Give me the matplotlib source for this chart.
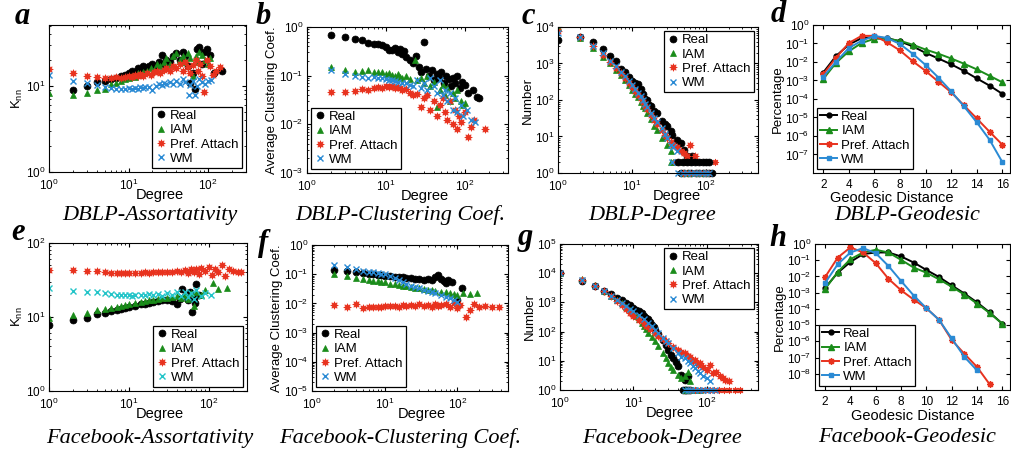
import matplotlib
matplotlib.use('Agg')
import matplotlib.pyplot as plt

plt.rcParams['font.family'] = ['Liberation Sans', 'DejaVu Sans']
plt.rcParams['mathtext.default'] = 'regular'

BLACK = 'black'
GREEN = '#1a8c1a'
RED = '#e8321e'
BLUE = '#2a8ad4'
CYAN = '#22c4c8'
names = ['Real', 'IAM', 'Pref. Attach', 'WM']

# ---- a: DBLP assortativity (degree, Knn)
a_real = [(2,8.9),(3,10),(4,11),(5,11.5),(6,12),(7,12.2),(8,13),(9,13.5),(10,14),(11,15),(12,14.5),(13,16),(14,15),
          (15,17),(16,15.5),(17,16),(18,17),(20,18),(22,17),(24,19),(26,23),(28,18),(30,20),(33,19),(36,22),(40,24),
          (44,20),(48,25),(52,22),(56,17),(60,10.8),(65,14),(68,9.2),(72,27),(78,28.6),(85,18),(90,25),(98,27),
          (106,23),(120,14),(150,15)]
a_iam = [(1,8.3),(2,7.9),(3,8.2),(4,8.9),(5,9.2),(6,10.5),(7,10.8),(8,11.5),(9,12),(10,12.5),(11,13),(12,12.8),
         (13,14),(14,13.5),(15,14.5),(17,15),(19,16),(21,15.5),(23,18),(25,17),(28,19),(30,21),(33,18),(36,22),
         (40,24),(44,20),(48,22),(52,19),(56,24),(60,21),(65,13),(70,22),(75,19),(78,25),(85,23),(92,20),(100,18),(106,21)]
a_pa = [(1,15.7),(2,14.2),(3,13.2),(4,12.8),(5,12.5),(6,12.3),(7,12.6),(8,12.4),(9,12.8),(10,13),(11,12.7),(12,13.3),
        (13,13),(14,13.8),(15,13.2),(17,14),(19,13.5),(21,14.5),(23,15),(25,14.2),(28,15.5),(30,16),(33,14.8),(36,17),
        (40,16),(44,18),(48,15),(52,19),(56,16.5),(60,14),(65,17.5),(70,20),(75,15),(80,18),(85,13),(90,8.6),(98,20),
        (105,17),(115,13.5),(125,15),(140,16.5)]
a_wm = [(1,13.4),(2,11.5),(3,10.9),(4,10.3),(5,9.6),(6,9.5),(7,9.3),(8,9.2),(9,9.1),(10,9.4),(11,9.2),(12,9.5),
        (13,9.3),(14,9.6),(15,9.4),(16,9.8),(18,9.7),(20,9),(22,10),(24,10.4),(26,10.2),(28,10.8),(30,10.5),(33,11),
        (36,10.6),(40,11.3),(44,10.5),(48,12),(52,11),(57,7.8),(60,10.2),(65,11.5),(68,7.8),(72,10),(78,12),(85,11),
        (92,10.6),(100,11.4),(110,11.8)]

# ---- b: DBLP clustering coefficient
b_real = [(2,0.67),(3,0.62),(4,0.58),(5,0.53),(6,0.48),(7,0.45),(8,0.44),(9,0.42),(10,0.39),(11,0.34),(12,0.33),
          (13,0.37),(14,0.31),(15,0.36),(16,0.28),(17,0.32),(18,0.24),(20,0.21),(22,0.18),(24,0.25),(26,0.15),
          (28,0.12),(30,0.49),(32,0.14),(35,0.1),(38,0.13),(41,0.08),(44,0.11),(47,0.09),(50,0.12),(54,0.07),
          (58,0.1),(62,0.085),(66,0.06),(70,0.09),(75,0.07),(80,0.1),(86,0.055),(92,0.075),(100,0.065),(110,0.045),
          (125,0.05),(140,0.036),(150,0.035)]
b_iam = [(2,0.15),(3,0.13),(4,0.12),(5,0.125),(6,0.13),(7,0.12),(8,0.118),(9,0.12),(10,0.11),(11,0.115),(12,0.105),
         (13,0.1),(14,0.11),(15,0.095),(16,0.09),(18,0.1),(20,0.085),(23,0.21),(25,0.08),(28,0.09),(30,0.07),(33,0.1),
         (36,0.06),(40,0.075),(44,0.023),(48,0.05),(52,0.065),(56,0.04),(60,0.055),(65,0.03),(70,0.045),(75,0.035),
         (80,0.05),(88,0.03),(95,0.025),(100,0.028)]
b_pa = [(2,0.046),(3,0.046),(4,0.048),(5,0.054),(6,0.05),(7,0.056),(8,0.058),(9,0.055),(10,0.06),(11,0.058),(12,0.06),
        (13,0.057),(14,0.059),(15,0.055),(16,0.05),(18,0.052),(20,0.045),(22,0.04),(25,0.042),(28,0.023),(30,0.035),
        (33,0.04),(36,0.02),(40,0.03),(44,0.015),(48,0.025),(52,0.035),(56,0.018),(60,0.012),(65,0.03),(70,0.01),
        (75,0.02),(80,0.008),(85,0.015),(90,0.011),(100,0.018),(110,0.0055),(120,0.009),(130,0.012),(180,0.008)]
b_wm = [(2,0.13),(3,0.11),(4,0.097),(5,0.094),(6,0.09),(7,0.092),(8,0.088),(9,0.09),(10,0.085),(11,0.08),(12,0.082),
        (13,0.078),(14,0.075),(16,0.07),(18,0.072),(20,0.065),(22,0.06),(25,0.08),(28,0.055),(30,0.07),(33,0.05),
        (36,0.09),(40,0.06),(44,0.045),(48,0.08),(52,0.04),(56,0.05),(60,0.03),(65,0.045),(70,0.02),(75,0.035),
        (80,0.018),(88,0.025),(95,0.015),(105,0.02),(120,0.012),(134,0.011)]

# ---- c: DBLP degree distribution (degree, number); *_two / *_one = degrees seen twice / once
c_real = [(1,4300),(2,5400),(3,3900),(4,2500),(5,1650),(6,1200),(7,710),(8,570),(9,420),(10,340),(11,300),(12,270),
          (13,205),(14,150),(15,105),(16,100),(17,75),(18,70),(20,50),(22,45),(25,26),(28,22),(30,19),(33,14),(35,11),
          (40,8),(45,6.5),(50,4.2),(55,3),(60,2.5),(65,3)]
c_real_two = [42, 48, 55, 62, 70, 80, 90, 100, 110]
c_real_one = [45, 50, 56, 63, 72, 80, 90, 100, 110, 120]
c_iam = [(1,10000),(2,5000),(3,2700),(4,1500),(5,1000),(6,650),(7,480),(8,350),(9,250),(10,190),(11,150),(12,120),
         (13,90),(14,70),(15,60),(16,45),(18,30),(20,20),(22,15),(25,9),(28,10),(30,6),(33,4)]
c_iam_two = [33, 36, 40, 45, 50, 55, 60]
c_iam_one = [50, 55, 60, 66, 72, 80, 90, 100]
c_pa = [(1,8000),(2,5200),(3,3000),(4,1700),(5,1100),(6,750),(7,550),(8,400),(9,300),(10,230),(11,180),(12,140),
        (13,110),(14,90),(15,70),(16,55),(18,40),(20,28),(22,22),(25,15),(28,11),(30,9),(33,7),(36,6),(40,5),(45,4),
        (50,3.5),(55,3),(60,6),(70,3)]
c_pa_two = [38, 44, 50, 57, 65, 75, 85, 130]
c_pa_one = [48, 54, 60, 68, 76, 85, 95, 105]
c_wm = [(1,7000),(2,5200),(3,3100),(4,1900),(5,1200),(6,850),(7,600),(8,450),(9,340),(10,260),(11,200),(12,160),
        (13,125),(14,100),(15,80),(16,65),(18,45),(20,32),(22,25),(25,17),(28,12),(30,9),(33,6),(36,5),(40,4)]
c_wm_two = [35, 40, 46, 52, 60, 68, 78, 90, 100]
c_wm_one = [42, 48, 55, 62, 70, 78, 88, 98, 110]

# ---- d: DBLP geodesic distance
dist = [2, 3, 4, 5, 6, 7, 8, 9, 10, 11, 12, 13, 14, 15, 16]
d_real = [2.7e-3, 0.021, 0.087, 0.195, 0.22, 0.195, 0.13, 0.07, 0.031, 0.0155, 7.5e-3, 3.3e-3, 1.3e-3, 5.3e-4, 1.9e-4]
d_iam = [1.2e-3, 9e-3, 0.038, 0.106, 0.18, 0.18, 0.14, 0.086, 0.047, 0.028, 0.0155, 8.1e-3, 4.0e-3, 1.8e-3, 8e-4]
d_pa = [2.2e-3, 0.017, 0.106, 0.26, 0.26, 0.115, 0.042, 0.011, 3.3e-3, 8.6e-4, 2.3e-4, 4.5e-5, 8.9e-6, 1.7e-6, 3.4e-7]
d_wm = [1.6e-3, 0.0103, 0.057, 0.14, 0.26, 0.195, 0.094, 0.0275, 6.9e-3, 1.45e-3, 2.6e-4, 4.0e-5, 5.5e-6, 6.3e-7, 3.9e-8]

# ---- e: Facebook assortativity
e_real = [(1,7.9),(2,9.1),(3,9.8),(4,10.9),(5,11.4),(6,12),(7,12.5),(8,13),(9,13.2),(10,13.8),(12,14.2),(14,14.8),
          (16,15.2),(18,15.5),(20,16),(23,16.3),(26,16.8),(30,17.2),(35,16.5),(40,15),(43,17.5),(46,24),(50,19),
          (55,17),(58,22),(62,11.7),(65,18),(68,15.6),(70,28),(75,20)]
e_iam = [(1,9.8),(2,10.5),(3,11.4),(4,12.3),(5,12.7),(6,13.2),(7,13.8),(8,14.2),(9,14.5),(10,15),(12,15.5),(14,16),
         (16,16.4),(18,16.8),(20,17.2),(23,17.5),(26,17.8),(30,18.2),(35,18.5),(40,19),(45,18),(50,20),(55,17.5),
         (60,21),(65,14),(70,22),(80,20),(90,23),(112,29),(130,24),(167,25)]
e_pa = [(1,43.6),(2,43.6),(3,41.5),(4,41.5),(5,40),(6,39.5),(7,39),(8,39.5),(9,39),(10,39.5),(12,39),(14,39.5),
        (16,40),(18,39.5),(20,40),(23,40.5),(26,40),(30,41),(35,40),(40,42),(45,40),(50,43),(55,39),(60,44),(65,41),
        (70,45),(75,38),(80,46),(90,42),(100,48),(110,37),(120,45),(130,40),(145,50),(160,36),(180,44),(200,42),
        (230,40),(250,41)]
e_wm = [(1,24.3),(2,22.6),(3,21.9),(4,21.5),(5,20.8),(6,20.3),(7,20),(8,19.8),(9,19.6),(10,19.6),(11,19.5),(12,19.7),
        (14,19.8),(16,20),(18,20.2),(20,20),(23,20.5),(26,19.5),(30,21),(35,20),(40,21.5),(45,19),(50,22),(55,18.5),
        (60,21),(65,17.5),(70,23),(80,19),(90,21),(107,20)]

# ---- f: Facebook clustering coefficient
f_real = [(2,0.14),(3,0.13),(4,0.117),(5,0.11),(6,0.105),(7,0.1),(8,0.095),(9,0.092),(10,0.09),(12,0.085),(14,0.082),
          (16,0.08),(18,0.078),(20,0.075),(23,0.072),(26,0.07),(30,0.068),(35,0.065),(40,0.07),(45,0.062),(50,0.08),
          (55,0.095),(60,0.07),(65,0.06),(70,0.05),(75,0.065),(85,0.056),(100,0.013),(117,0.033)]
f_iam = [(2,0.1),(3,0.088),(4,0.073),(5,0.067),(6,0.063),(7,0.06),(8,0.057),(9,0.054),(10,0.052),(12,0.048),(14,0.045),
         (16,0.043),(18,0.041),(20,0.04),(23,0.037),(26,0.035),(30,0.033),(35,0.031),(40,0.029),(45,0.028),(50,0.027),
         (60,0.025),(70,0.024),(80,0.022),(90,0.021),(100,0.02),(120,0.022),(150,0.021),(190,0.023)]
f_pa = [(2,0.0088),(3,0.0077),(4,0.0093),(5,0.0071),(6,0.0075),(7,0.0073),(8,0.0078),(9,0.0076),(10,0.008),(12,0.0079),
        (14,0.0082),(16,0.0078),(18,0.0085),(20,0.008),(23,0.0088),(26,0.0079),(30,0.0092),(35,0.0084),(40,0.009),
        (45,0.0078),(50,0.0095),(55,0.0082),(60,0.0088),(70,0.0098),(80,0.0075),(90,0.01),(100,0.0068),(110,0.0085),
        (130,0.0035),(150,0.006),(170,0.0095),(200,0.0075),(240,0.008),(300,0.0078),(380,0.0077)]
f_wm = [(2,0.21),(3,0.17),(4,0.15),(5,0.13),(6,0.12),(7,0.115),(8,0.11),(9,0.105),(10,0.1),(12,0.085),(14,0.073),
        (16,0.062),(18,0.052),(20,0.046),(23,0.04),(26,0.036),(30,0.033),(35,0.029),(40,0.026),(45,0.024),(50,0.022),
        (60,0.019),(70,0.017),(80,0.015),(90,0.013),(100,0.011)]

# ---- g: Facebook degree distribution
g_real = [(1,10000),(2,5400),(3,3650),(4,2450),(5,2000),(6,1450),(7,1200),(8,980),(9,790),(10,650),(11,570),(12,500),
          (13,420),(14,340),(15,300),(16,260),(17,210),(18,175),(19,145),(20,117),(22,85),(25,53),(28,35),(30,24),
          (33,16),(35,12),(38,9),(40,6.4),(45,3.3),(50,2.2),(55,3)]
g_real_one = [48, 50, 53, 56, 60]
g_iam = [(1,10000),(2,6200),(3,3800),(4,2500),(5,1650),(6,1200),(7,920),(8,720),(9,560),(10,440),(11,350),(12,280),
         (13,200),(14,160),(15,120),(16,90),(18,65),(20,46),(22,32),(25,18),(28,12),(30,8.3),(33,6),(35,4.9),(40,3.3),
         (45,2.5),(50,3),(55,4),(60,2)]
g_iam_one = [50, 55, 60, 66, 72, 80]
g_pa = [(1,10000),(2,5800),(3,3700),(4,2400),(5,1650),(6,1100),(7,800),(8,600),(9,450),(10,340),(12,250),(14,190),
        (15,150),(17,120),(20,90),(22,70),(25,55),(28,46),(30,40),(35,30),(40,24),(45,20),(50,18),(55,15),(60,14),
        (65,10),(70,11),(75,7),(80,8.3),(90,6),(100,4.9),(110,7),(120,3.8),(135,4),(150,2.9),(165,2.5),(180,2.2),(200,2)]
g_pa_one = [60, 70, 80, 95, 110, 125, 145, 170, 200, 240, 280]
g_wm = [(1,10000),(2,5800),(3,3700),(4,2400),(5,1700),(6,1250),(7,950),(8,760),(9,610),(10,500),(12,360),(14,270),
        (16,200),(18,150),(20,117),(22,90),(25,62),(28,48),(30,40),(35,27),(40,18),(45,14),(50,12),(55,10),(60,8.3),
        (65,6.5),(70,5.6),(75,4.5),(80,3.8),(90,3),(100,2.5),(110,2)]
g_wm_one = [50, 56, 62, 70, 78, 88, 100, 115, 130]

# ---- h: Facebook geodesic distance
h_real = [2e-3, 0.017, 0.079, 0.24, 0.3, 0.3, 0.17, 0.072, 0.025, 9.2e-3, 2.8e-3, 8.8e-4, 2.5e-4, 6e-5, 1.2e-5]
h_iam = [1.7e-3, 0.019, 0.116, 0.3, 0.44, 0.3, 0.105, 0.035, 0.017, 6.6e-3, 2.3e-3, 7.6e-4, 2.1e-4, 5.5e-5, 1.2e-5]
h_pa = [9.2e-3, 0.147, 0.62, 0.3, 0.065, 7.2e-3, 1.4e-3, 3.7e-4, 1.1e-4, 2.1e-5, 1.2e-6, 1.7e-7, 2.6e-8, 2.2e-9]
h_wm = [4e-3, 0.057, 0.3, 0.56, 0.27, 0.044, 5.2e-3, 6.6e-4, 1.1e-4, 2.1e-5, 1.5e-6, 1.1e-7, 1.6e-8]


def unz(pairs):
    return [p[0] for p in pairs], [p[1] for p in pairs]


def base_style(ax):
    ax.tick_params(which='both', direction='in', top=True, right=True, labelsize=8.5)
    ax.tick_params(axis='x', which='both', pad=4.5)
    ax.tick_params(axis='y', which='both', pad=2.5)
    ax.tick_params(which='major', length=3)
    ax.tick_params(which='minor', length=1.5)
    for s in ax.spines.values():
        s.set_linewidth(0.8)


def box_legend(ax, loc, handlelength=0.8):
    lg = ax.legend(loc=loc, fontsize=9.5, frameon=True, fancybox=False, edgecolor='black', framealpha=1,
                   handlelength=handlelength, handletextpad=0.3, borderpad=0.25, labelspacing=0.15,
                   borderaxespad=0.3)
    lg.get_frame().set_linewidth(0.9)


def scatter_panel(ax, series, colors, xlim, ylim, ylabel, loc, degx=0.53):
    mk = ['o', '^', (8, 1, 0), 'x']
    ms = [5, 5, 5.5, 4]
    for i, s in enumerate(series):
        x, y = unz(s)
        ax.plot(x, y, linestyle='none', marker=mk[i], ms=ms[i], color=colors[i],
                mew=1 if mk[i] == 'x' else 0.5, label=names[i])
    ax.set_xscale('log')
    ax.set_yscale('log')
    ax.set_xlim(*xlim)
    ax.set_ylim(*ylim)
    base_style(ax)
    # MATLAB put the "Degree" label just right of the 10^1 tick label
    ax.set_xlabel('Degree', fontsize=10.5)
    ax.xaxis.set_label_coords(degx + 0.035, -0.11)
    ax.set_ylabel(ylabel, fontsize=9.5, labelpad=1)
    box_legend(ax, loc)


def geo_panel(ax, series, ylim, yt, loc, labx, laby):
    mk = ['o', '^', (8, 1, 0), 's']
    ms = [3.5, 4, 4.5, 3.5]
    colors = [BLACK, GREEN, RED, BLUE]
    for i, s in enumerate(series):
        ax.plot(dist[:len(s)], s, marker=mk[i], ms=ms[i], color=colors[i], lw=1.4, label=names[i])
    ax.set_yscale('log')
    ax.set_xlim(1.2, 16.6)
    ax.set_ylim(*ylim)
    ax.set_yticks(yt)
    ax.minorticks_off()
    ax.set_xticks([2, 4, 6, 8, 10, 12, 14, 16])
    base_style(ax)
    ax.set_xlabel('Geodesic Distance', fontsize=10.5)
    ax.xaxis.set_label_coords(labx, laby)
    ax.set_ylabel('Percentage', fontsize=9.5, labelpad=1)
    box_legend(ax, loc, handlelength=1.3)


fig = plt.figure(figsize=(10.12, 4.58), dpi=100)
W, H = 1012.0, 458.0


def add(l, r, t, b):
    return fig.add_axes([l / W, 1 - b / H, (r - l) / W, (b - t) / H])


ax_a = add(49, 246, 25, 172)
ax_b = add(307, 508, 27, 173)
ax_c = add(558, 758, 27, 173)
ax_d = add(813, 1010, 25, 173)
ax_e = add(49, 247, 243, 391)
ax_f = add(312, 508, 245, 391)
ax_g = add(560, 758, 244, 390)
ax_h = add(815, 1010, 244, 390)

scatter_panel(ax_a, [a_real, a_iam, a_pa, a_wm], [BLACK, GREEN, RED, BLUE], (1, 300), (1, 51),
              'K$_{nn}$', 'lower right')
scatter_panel(ax_b, [b_real, b_iam, b_pa, b_wm], [BLACK, GREEN, RED, BLUE], (1, 350), (1e-3, 1),
              'Average Clustering Coef.', 'lower left', degx=0.55)

scatter_panel(ax_c, [c_real, c_iam, c_pa, c_wm], [BLACK, GREEN, RED, BLUE], (1, 500), (1, 1e4),
              'Number', 'upper right', degx=0.56)
for xs, c, m, n in [(c_iam_two, GREEN, '^', 2), (c_pa_two, RED, (8, 1, 0), 2), (c_wm_two, BLUE, 'x', 2),
                    (c_real_two, BLACK, 'o', 2), (c_real_one, BLACK, 'o', 1), (c_iam_one, GREEN, '^', 1),
                    (c_pa_one, RED, (8, 1, 0), 1), (c_wm_one, BLUE, 'x', 1)]:
    ax_c.plot(xs, [n] * len(xs), linestyle='none', marker=m, ms=5, color=c, mew=1 if m == 'x' else 0.5,
              clip_on=False)

geo_panel(ax_d, [d_real, d_iam, d_pa, d_wm], (1e-8, 1), [1e-7, 1e-6, 1e-5, 1e-4, 1e-3, 1e-2, 1e-1, 1],
          'lower left', 0.40, -0.125)

scatter_panel(ax_e, [e_real, e_iam, e_pa, e_wm], [BLACK, GREEN, RED, CYAN], (1, 300), (1, 100),
              'K$_{nn}$', 'lower right', degx=0.525)
scatter_panel(ax_f, [f_real, f_iam, f_pa, f_wm], [BLACK, GREEN, RED, BLUE], (1, 500), (1e-5, 1),
              'Average Clustering Coef.', 'lower left', degx=0.525)

scatter_panel(ax_g, [g_real, g_iam, g_pa, g_wm], [BLACK, GREEN, RED, BLUE], (1, 500), (1, 1e5),
              'Number', 'upper right', degx=0.52)
for xs, c, m in [(g_real_one, BLACK, 'o'), (g_iam_one, GREEN, '^'), (g_pa_one, RED, (8, 1, 0)),
                 (g_wm_one, BLUE, 'x')]:
    ax_g.plot(xs, [1] * len(xs), linestyle='none', marker=m, ms=5, color=c, mew=1 if m == 'x' else 0.5,
              clip_on=False)

geo_panel(ax_h, [h_real, h_iam, h_pa, h_wm], (1e-9, 1),
          [1e-8, 1e-7, 1e-6, 1e-5, 1e-4, 1e-3, 1e-2, 1e-1, 1], 'lower left', 0.50, -0.13)

# panel letters
for ch, x, y in [('a', 22, 17), ('b', 263, 17), ('c', 528, 16), ('d', 778, 15),
                 ('e', 18, 233), ('f', 263, 243), ('g', 525, 238), ('h', 778, 238)]:
    fig.text(x / W, 1 - y / H, ch, fontsize=22, fontweight='bold', style='italic',
             family='Liberation Serif', ha='center', va='center')

# captions
for txt, x, y in [('DBLP-Assortativity', 150, 215), ('DBLP-Clustering Coef.', 400, 215),
                  ('DBLP-Degree', 652, 215), ('DBLP-Geodesic', 907, 215),
                  ('Facebook-Assortativity', 150, 438), ('Facebook-Clustering Coef.', 400, 438),
                  ('Facebook-Degree', 662, 438), ('Facebook-Geodesic', 907, 438)]:
    fig.text(x / W, 1 - y / H, txt, fontsize=16, style='italic', family='Liberation Serif',
             ha='center', va='center')

fig.savefig('out.png', dpi=100)
